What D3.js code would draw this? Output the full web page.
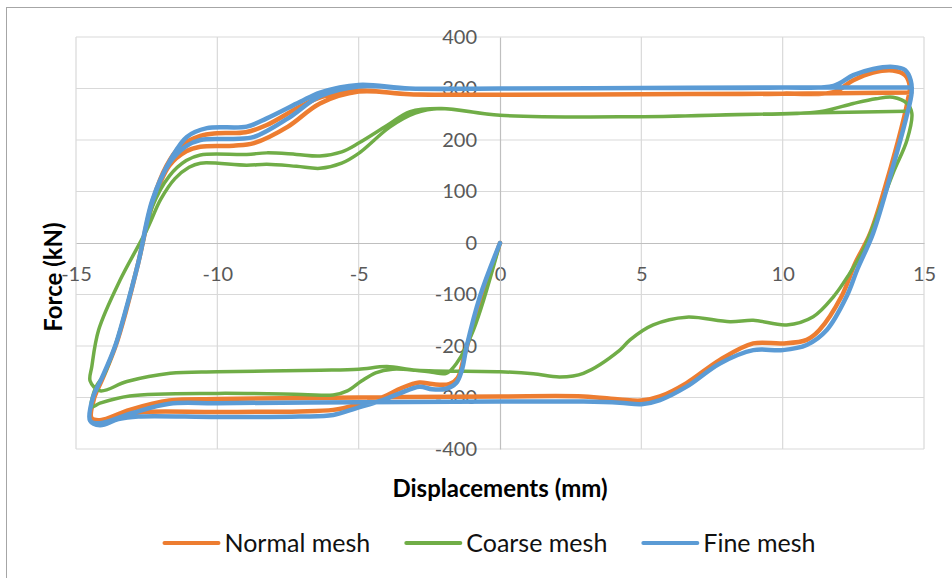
<!DOCTYPE html>
<html>
<head>
<meta charset="utf-8">
<script src="https://cdn.jsdelivr.net/npm/d3@7"></script>
<style>
  body { margin: 0; background: #fff; }
  text { font-family: Lato, "Open Sans", sans-serif; }
</style>
</head>
<body>
<div id="wrapper"></div>
<script>
// hysteresis loops: [displacement mm, force kN]
const normalMesh = [
  [0, 0], [-0.82, -136], [-1.24, -214], [-1.5, -262], [-1.8, -274], [-2.4, -274],
  [-2.85, -271], [-3.5, -282], [-4.1, -298], [-5.1, -315], [-5.9, -324], [-7.1, -327],
  [-10, -328], [-12.6, -328], [-13.4, -334], [-14.1, -345], [-14.45, -340],
  [-14.35, -300], [-14.05, -262], [-13.6, -200], [-13.25, -136], [-12.8, -39],
  [-12.3, 80], [-11.8, 150], [-11.3, 188], [-10.6, 208], [-10.0, 213], [-9.0, 215],
  [-8.25, 229], [-7.07, 265], [-6.3, 284], [-5.0, 296], [-3.2, 289], [0, 288],
  [5, 289], [10, 290], [11.8, 293], [12.5, 316], [13.2, 331], [13.9, 335],
  [14.33, 326], [14.5, 303], [14.43, 278], [14.3, 245], [13.83, 148], [13.1, 19],
  [12.56, -40], [12.08, -104], [11.3, -169], [10.85, -188], [10.0, -195], [8.96, -195],
  [7.78, -227], [6.6, -272], [5.66, -298], [5.0, -306], [4.24, -304], [2.95, -298],
  [0, -298], [-5, -300], [-10, -303], [-11.7, -306], [-13.1, -324], [-14.15, -344],
  [-14.45, -340], [-14.35, -300], [-14.05, -262], [-13.6, -200], [-13.25, -136],
  [-12.8, -39], [-12.3, 75], [-11.7, 150], [-11.1, 178], [-10.6, 187], [-9.43, 189],
  [-8.7, 194], [-7.5, 226], [-6.37, 271], [-5.0, 294], [-3.2, 289], [0, 288],
  [5, 289], [10, 290], [14.55, 292]
];

const coarseMesh = [
  [0, 0], [-0.94, -169], [-1.53, -233], [-1.9, -253], [-2.4, -251], [-3, -247],
  [-3.8, -245], [-4.4, -252], [-4.9, -268], [-5.4, -287], [-5.9, -295], [-7, -294],
  [-10, -292], [-13.1, -297], [-14.15, -311], [-14.45, -318],
  [-14.3, -280], [-14.0, -255], [-13.62, -201], [-13.27, -136], [-12.8, -39],
  [-12.3, 70], [-11.7, 130], [-11.1, 160], [-10.6, 171], [-8.96, 172], [-8.25, 175],
  [-7.2, 172], [-6.37, 169], [-5.6, 177], [-5.0, 194], [-4.0, 228], [-3.18, 255],
  [-2.12, 261], [0, 248], [4.5, 245], [8, 249], [11.3, 255], [12.5, 271], [13.3, 280],
  [13.9, 283], [14.4, 271], [14.57, 252], [14.4, 200], [13.9, 135], [12.85, -13],
  [12.3, -65], [11.8, -104], [11.08, -143], [10.14, -159], [8.96, -150], [8.14, -153],
  [6.6, -144], [5.42, -159], [4.6, -188], [4.24, -208], [2.95, -253], [2.12, -260],
  [1.18, -254], [0, -250], [-2.95, -247], [-4.0, -240], [-5, -245], [-6.37, -247],
  [-10, -250], [-11.67, -253], [-13.2, -269], [-14.15, -287], [-14.5, -268],
  [-14.44, -240], [-14.2, -169], [-13.44, -72], [-12.5, 25], [-12.0, 85], [-11.5, 125],
  [-11.0, 147], [-10.6, 155], [-8.96, 151], [-8.25, 153], [-7.2, 149], [-6.37, 145],
  [-5.6, 155], [-5, 174], [-3.9, 225], [-3.0, 252], [-2.12, 261], [0, 248], [4.5, 245],
  [11.3, 253], [14.4, 256]
];

const fineMesh = [
  [0, 0], [-0.71, -104], [-1.18, -201], [-1.35, -247], [-1.55, -272], [-1.9, -283],
  [-2.4, -284], [-2.85, -279], [-3.55, -292], [-4.15, -305], [-5.1, -321], [-5.9, -334],
  [-7.1, -337], [-10, -338], [-12.8, -337], [-13.5, -342], [-14.15, -354], [-14.5, -345],
  [-14.4, -300], [-14.1, -264], [-13.62, -201], [-13.27, -136], [-12.8, -39], [-12.3, 83],
  [-11.6, 167], [-11.08, 206], [-10.37, 223], [-8.96, 226], [-8.25, 242], [-7.07, 274],
  [-6.37, 292], [-5, 307], [-3.2, 300], [0, 300], [5, 301], [10, 302], [11.8, 305],
  [12.5, 326], [13.2, 338], [13.9, 342], [14.33, 336], [14.53, 316], [14.56, 291],
  [14.38, 245], [13.9, 148], [13.2, 19], [12.65, -50], [12.26, -104], [11.56, -169],
  [10.85, -198], [10.0, -208], [8.96, -208], [7.78, -234], [6.6, -279], [5.66, -305],
  [5.0, -313], [4.24, -310], [2.95, -308], [0, -308], [-5, -309], [-10, -311],
  [-11.7, -312], [-13, -330], [-14.15, -350], [-14.5, -345],
  [-14.4, -300], [-14.1, -264], [-13.62, -201], [-13.27, -136], [-12.8, -39], [-12.3, 80],
  [-11.7, 155], [-11.1, 188], [-10.6, 200], [-9.43, 202], [-8.7, 206], [-7.5, 242],
  [-6.37, 285], [-5, 304], [-3.2, 300], [0, 300], [5, 301], [10, 302], [14.57, 302]
];

const seriesNames = ["Normal mesh", "Coarse mesh", "Fine mesh"];
const xTicks = [-15, -10, -5, 0, 5, 10, 15];
const yTicks = [-400, -300, -200, -100, 0, 100, 200, 300, 400];
const xTitle = "Displacements (mm)";
const yTitle = "Force (kN)";

const colors = ["#ED7D31", "#70AD47", "#5B9BD5"];
const lineWidths = [4.5, 3.5, 4.5];

function drawChart() {
  let dimensions = {
    width: 952,
    height: 578,
    margin: { top: 37, right: 28, bottom: 129, left: 76 },
  }
  dimensions.boundedWidth = dimensions.width - dimensions.margin.left - dimensions.margin.right
  dimensions.boundedHeight = dimensions.height - dimensions.margin.top - dimensions.margin.bottom

  const wrapper = d3.select("#wrapper")
    .append("svg")
    .attr("width", dimensions.width)
    .attr("height", dimensions.height)

  // chart frame (right and bottom edges fall outside the picture)
  wrapper.append("rect")
    .attr("x", 6.5).attr("y", 7.5)
    .attr("width", 1000).attr("height", 1000)
    .attr("fill", "none")
    .attr("stroke", "#A6A6A6")
    .attr("stroke-width", 1)

  const bounds = wrapper.append("g")
    .attr("transform", `translate(${dimensions.margin.left}, ${dimensions.margin.top})`)

  const xScale = d3.scaleLinear()
    .domain([-15, 15])
    .range([0, dimensions.boundedWidth])
  const yScale = d3.scaleLinear()
    .domain([-400, 400])
    .range([dimensions.boundedHeight, 0])

  // grid
  const grid = bounds.append("g")
  grid.selectAll(".vgrid")
    .data(xTicks.filter(d => d !== 0))
    .join("line")
    .attr("x1", d => xScale(d)).attr("x2", d => xScale(d))
    .attr("y1", 0).attr("y2", dimensions.boundedHeight)
    .attr("stroke", "#D9D9D9").attr("stroke-width", 1.2)
  grid.selectAll(".hgrid")
    .data(yTicks.filter(d => d !== 0))
    .join("line")
    .attr("x1", 0).attr("x2", dimensions.boundedWidth)
    .attr("y1", d => yScale(d)).attr("y2", d => yScale(d))
    .attr("stroke", "#D9D9D9").attr("stroke-width", 1.2)

  // axes cross at the origin
  const xAxis = bounds.append("g")
    .attr("transform", `translate(0, ${yScale(0)})`)
    .call(d3.axisBottom(xScale).tickValues(xTicks).tickSize(0).tickSizeOuter(0)
      .tickPadding(24).tickFormat(d => String(d)))
  const yAxis = bounds.append("g")
    .attr("transform", `translate(${xScale(0)}, 0)`)
    .call(d3.axisLeft(yScale).tickValues(yTicks).tickSize(0).tickSizeOuter(0)
      .tickPadding(23).tickFormat(d => String(d)))

  ;[xAxis, yAxis].forEach(ax => {
    ax.select(".domain").attr("stroke", "#BFBFBF").attr("stroke-width", 1.2)
    ax.selectAll("text")
      .attr("fill", "#595959")
      .style("font-size", "20px")
      .style("font-family", "Lato, sans-serif")
  })

  // series
  const lineGen = d3.line()
    .x(d => xScale(d[0]))
    .y(d => yScale(d[1]))
    .curve(d3.curveCatmullRom.alpha(0.5))

  const allSeries = [normalMesh, coarseMesh, fineMesh]
  bounds.append("g")
    .selectAll("path")
    .data(allSeries)
    .join("path")
    .attr("d", d => lineGen(d))
    .attr("fill", "none")
    .attr("stroke", (d, i) => colors[i])
    .attr("stroke-width", (d, i) => lineWidths[i])
    .attr("stroke-linejoin", "round")
    .attr("stroke-linecap", "round")

  // axis titles
  wrapper.append("text")
    .attr("x", dimensions.margin.left + xScale(0))
    .attr("y", 497)
    .attr("text-anchor", "middle")
    .style("font-size", "24px")
    .style("font-weight", "bold")
    .attr("fill", "#000")
    .text(xTitle)

  wrapper.append("text")
    .attr("transform", "translate(62, 277) rotate(-90)")
    .attr("text-anchor", "middle")
    .style("font-size", "24px")
    .style("font-weight", "bold")
    .attr("fill", "#000")
    .text(yTitle)

  // legend
  const legend = wrapper.append("g")
  const items = legend.selectAll("g")
    .data(seriesNames)
    .join("g")
  items.append("line")
    .attr("x1", 0).attr("x2", 54)
    .attr("y1", 0).attr("y2", 0)
    .attr("stroke", (d, i) => colors[i])
    .attr("stroke-width", 4)
    .attr("stroke-linecap", "round")
  items.append("text")
    .attr("x", 60)
    .attr("y", 8.5)
    .style("font-size", "25px")
    .attr("fill", "#111")
    .text(d => d)

  let offset = 0
  const widths = []
  items.each(function () {
    const w = 60 + d3.select(this).select("text").node().getComputedTextLength()
    widths.push(offset)
    offset += w + 36
  })
  const total = offset - 36
  const startX = 490 - total / 2
  items.attr("transform", (d, i) => `translate(${startX + widths[i]}, 543)`)
}

drawChart()
</script>
</body>
</html>
